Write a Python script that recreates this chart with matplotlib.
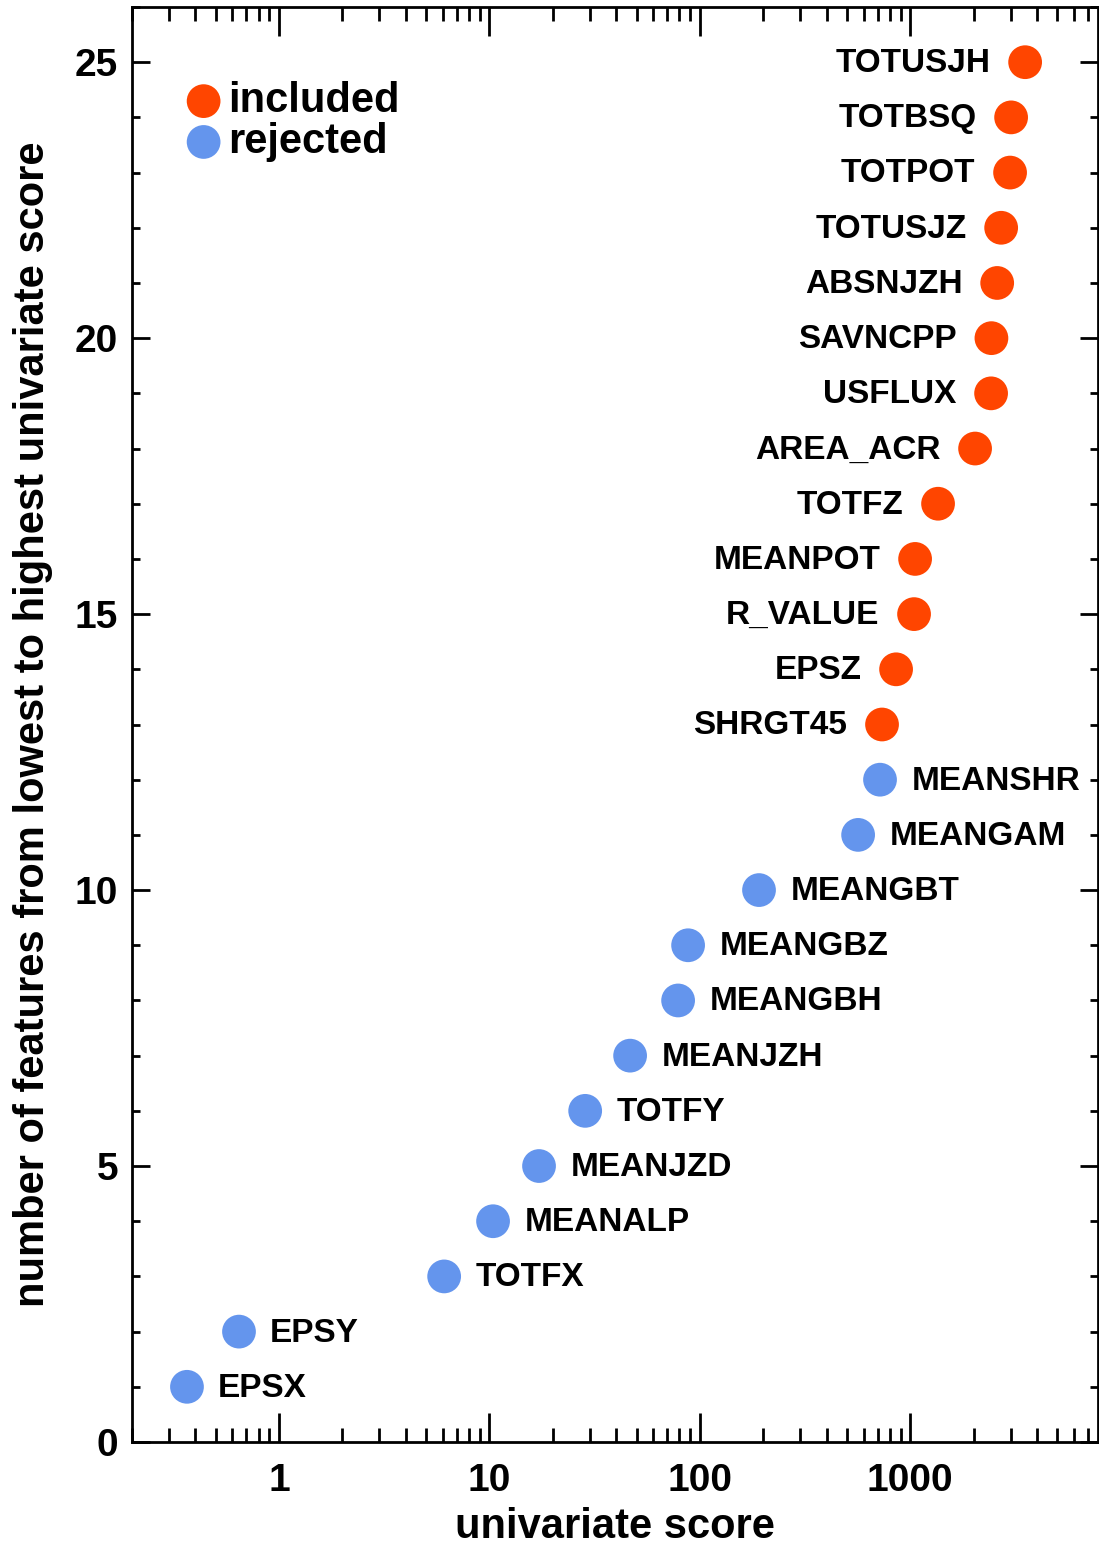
import matplotlib
matplotlib.use("Agg")
import matplotlib.pyplot as plt
from matplotlib.ticker import LogLocator, FixedLocator, NullFormatter, MultipleLocator

plt.rcParams["font.family"] = ["Liberation Sans", "DejaVu Sans"]
plt.rcParams["font.weight"] = "bold"

# features ordered from lowest to highest univariate score
features = ["EPSX", "EPSY", "TOTFX", "MEANALP", "MEANJZD", "TOTFY", "MEANJZH",
            "MEANGBH", "MEANGBZ", "MEANGBT", "MEANGAM", "MEANSHR", "SHRGT45",
            "EPSZ", "R_VALUE", "MEANPOT", "TOTFZ", "AREA_ACR", "USFLUX",
            "SAVNCPP", "ABSNJZH", "TOTUSJZ", "TOTPOT", "TOTBSQ", "TOTUSJH"]
scores = [0.365, 0.645, 6.09, 10.4, 17.2, 28.5, 46.6,
          78.8, 87.9, 191, 565, 718, 734,
          856, 1042, 1054, 1355, 2032, 2421,
          2430, 2588, 2703, 2980, 3014, 3514]
included = [False] * 12 + [True] * 13

col_in = "#ff4500"
col_out = "#6495ed"

fig = plt.figure(figsize=(10.99, 15.45), dpi=100)
ax = fig.add_axes([132 / 1099, 1 - 1442 / 1545, 966 / 1099, 1435 / 1545])

ranks = list(range(1, len(features) + 1))
x_in = [s for s, k in zip(scores, included) if k]
y_in = [r for r, k in zip(ranks, included) if k]
x_out = [s for s, k in zip(scores, included) if not k]
y_out = [r for r, k in zip(ranks, included) if not k]

ax.scatter(x_in, y_in, s=590, color=col_in, edgecolors="none", label="included", zorder=3)
ax.scatter(x_out, y_out, s=590, color=col_out, edgecolors="none", label="rejected", zorder=3)

for name, sc, r, k in zip(features, scores, ranks, included):
    if k:
        ax.annotate(name, (sc, r), xytext=(-25, -1), textcoords="offset points",
                    ha="right", va="center", fontsize=24, fontweight="bold")
    else:
        ax.annotate(name, (sc, r), xytext=(22.5, -1), textcoords="offset points",
                    ha="left", va="center", fontsize=24, fontweight="bold")

ax.set_xscale("log")
ax.set_xlim(0.2, 7800)
ax.set_ylim(0, 26)

ax.xaxis.set_major_locator(FixedLocator([1, 10, 100, 1000]))
ax.xaxis.set_minor_locator(LogLocator(base=10, subs=range(2, 10), numticks=20))
ax.xaxis.set_minor_formatter(NullFormatter())
ax.set_xticklabels(["1", "10", "100", "1000"])
ax.yaxis.set_major_locator(MultipleLocator(5))
ax.yaxis.set_minor_locator(MultipleLocator(1))

ax.tick_params(which="both", direction="in", top=True, right=True, width=2)
ax.tick_params(axis="x", which="major", length=21, pad=15, labelsize=28)
ax.tick_params(axis="x", which="minor", length=10)
ax.tick_params(axis="y", which="major", length=13, pad=10, labelsize=28)
ax.tick_params(axis="y", which="minor", length=6)
for sp in ax.spines.values():
    sp.set_linewidth(2)

ax.set_xlabel("univariate score", fontsize=30, fontweight="bold", labelpad=6)
ax.set_ylabel("number of features from lowest to highest univariate score",
              fontsize=30, fontweight="bold", labelpad=16)

ax.legend(loc="upper left", bbox_to_anchor=(0.031, 0.96), frameon=False,
          fontsize=30, handletextpad=0.0, labelspacing=0.02, borderaxespad=0,
          handlelength=1.2, scatterpoints=1)

fig.savefig("out.png", dpi=100)
